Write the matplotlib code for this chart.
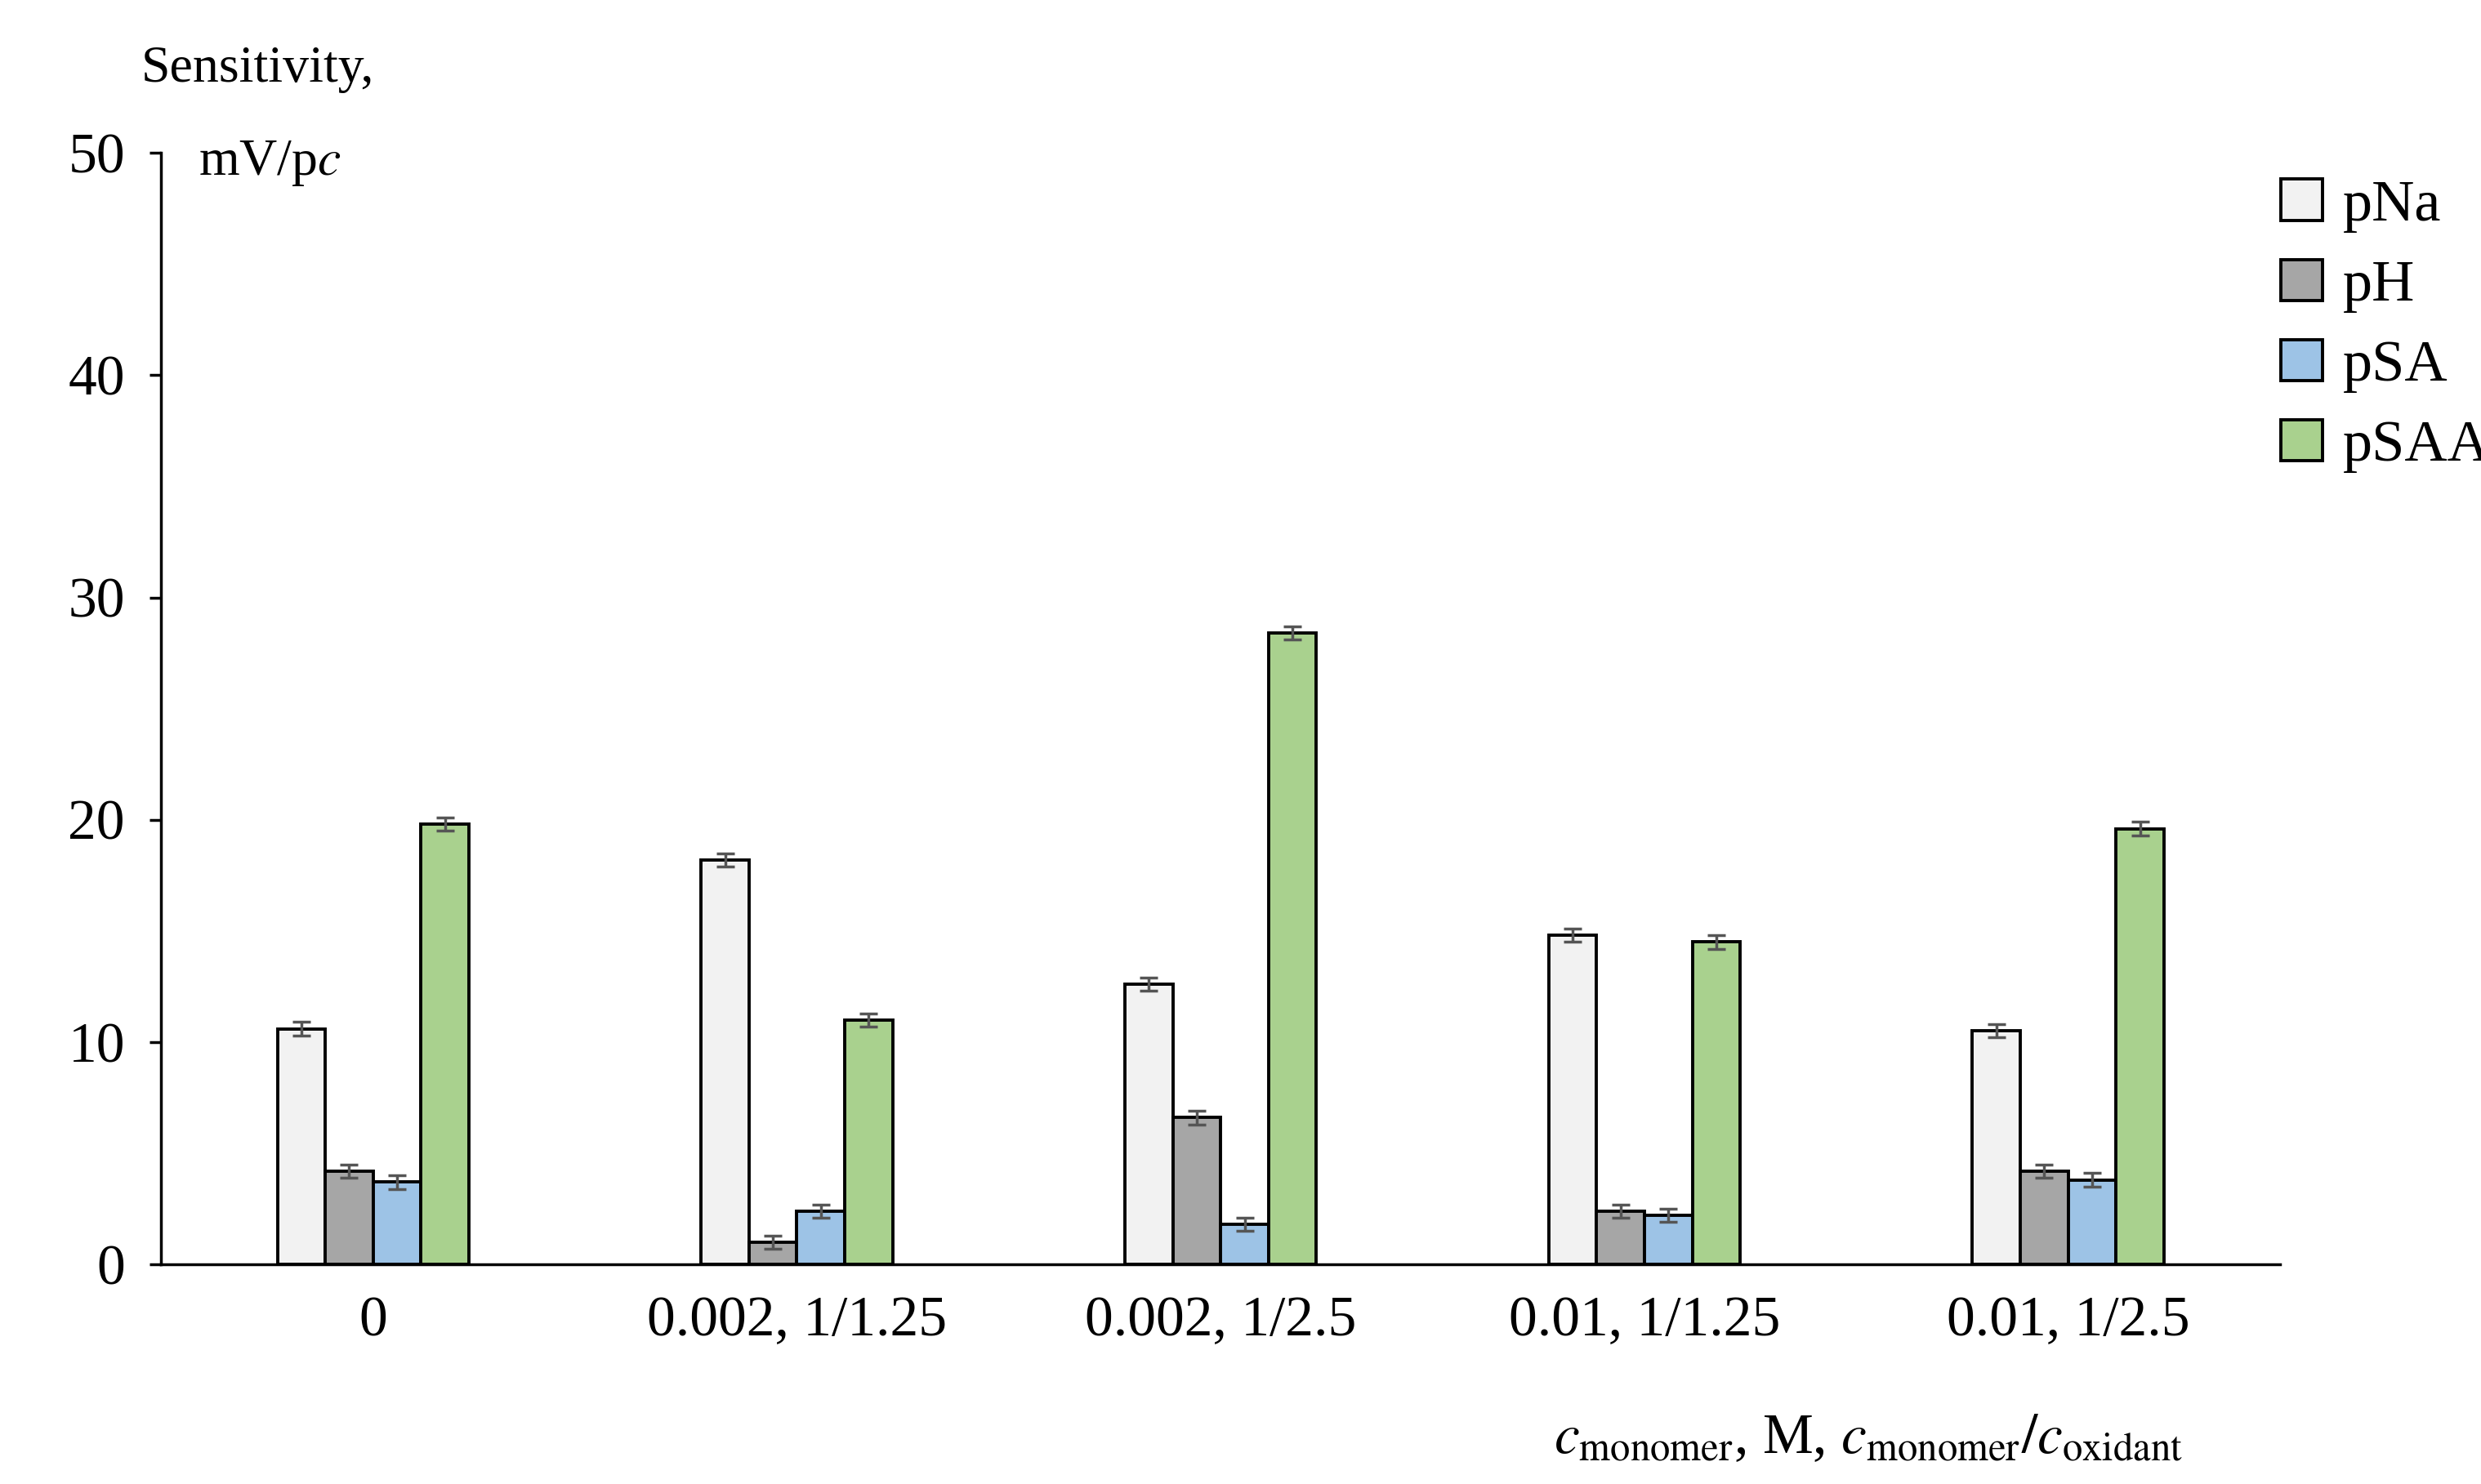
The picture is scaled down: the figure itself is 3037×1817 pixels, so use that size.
import matplotlib.pyplot as plt
import numpy as np

plt.rcParams['font.family'] = ['Liberation Serif', 'DejaVu Serif']
plt.rcParams['mathtext.fontset'] = 'stix'

categories = ["0", "0.002, 1/1.25", "0.002, 1/2.5", "0.01, 1/1.25", "0.01, 1/2.5"]
series = ["pNa", "pH", "pSA", "pSAA"]
pNa = [10.6, 18.2, 12.6, 14.8, 10.5]
pH = [4.2, 1.0, 6.6, 2.4, 4.2]
pSA = [3.7, 2.4, 1.8, 2.2, 3.8]
pSAA = [19.8, 11.0, 28.4, 14.5, 19.6]
errors = [0.3, 0.3, 0.3, 0.3]
colors = ["#f2f2f2", "#a6a6a6", "#9dc3e6", "#a9d18e"]

fig = plt.figure(figsize=(30.37, 18.17), dpi=100)
ax = fig.add_axes([0.065, 0.148, 0.854, 0.749])

x = np.arange(len(categories))
w = 0.113
for i, (name, vals) in enumerate(zip(series, [pNa, pH, pSA, pSAA])):
    ax.bar(x + (i - 1.5) * w, vals, w, color=colors[i], edgecolor="black",
           linewidth=2.8, label=name, zorder=2,
           yerr=errors[i], ecolor="#555555",
           error_kw=dict(elinewidth=2.5, capsize=8, capthick=2.5))

ax.set_xlim(-0.5, 4.5)
ax.set_ylim(0, 50)
ax.set_yticks([0, 10, 20, 30, 40, 50])
ax.set_xticks(x)
ax.set_xticklabels(categories)
ax.tick_params(axis="x", length=0, pad=28, labelsize=50)
ax.tick_params(axis="y", length=10, width=2.5, labelsize=50, pad=22, direction="out")
for s in ["top", "right"]:
    ax.spines[s].set_visible(False)
ax.spines["left"].set_linewidth(2.5)
ax.spines["bottom"].set_linewidth(2.5)

fig.text(0.057, 0.953, "Sensitivity,", fontsize=46, ha="left", va="center")
fig.text(0.080, 0.890, "mV/p$\\it{c}$", fontsize=46, ha="left", va="center")
fig.text(0.753, 0.030,
         r"$c_{\mathrm{monomer}}$, M, $c_{\mathrm{monomer}}/c_{\mathrm{oxidant}}$",
         fontsize=50, ha="center", va="center")

fig.legend(loc="upper left", bbox_to_anchor=(0.898, 0.915), frameon=False,
           fontsize=52, handlelength=0.7, handleheight=0.7, handletextpad=0.35,
           labelspacing=0.45)

fig.savefig("out.png", dpi=100)
